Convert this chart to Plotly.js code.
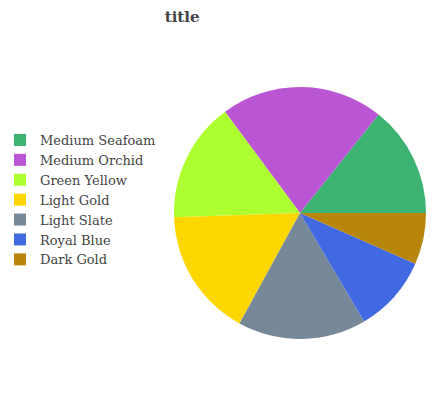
<!DOCTYPE html>
<html>
<head>
<meta charset="utf-8">
<script src="https://cdn.plot.ly/plotly-3.0.1.min.js"></script>
<style>html,body{margin:0;padding:0;background:#fff;}</style>
</head>
<body>
<div id="chart" style="width:444px;height:400px;"></div>
<script>
const categories = ["Medium Seafoam", "Medium Orchid", "Green Yellow", "Light Gold", "Light Slate", "Royal Blue", "Dark Gold"];
const values = [13, 19, 14, 15, 15, 9, 6];
const colors = ["#3CB371", "#BA55D3", "#ADFF2F", "#FFD700", "#778899", "#4169E1", "#B8860B"];

const data = [{
  type: "pie",
  labels: categories,
  values: values,
  sort: false,
  direction: "counterclockwise",
  rotation: 38.6,
  textinfo: "none",
  hoverinfo: "label+value",
  marker: {colors: colors, line: {width: 0}},
  domain: {x: [0.3919, 0.9595], y: [0.1525, 0.7825]}
}];

const layout = {
  width: 444,
  height: 400,
  margin: {l: 0, r: 0, t: 0, b: 0},
  paper_bgcolor: "#ffffff",
  font: {family: "DejaVu Serif", color: "#444444"},
  title: {text: "<b>title</b>", font: {family: "DejaVu Serif", size: 15, color: "#444444"}, x: 0.371, xanchor: "left", y: 0.958, yanchor: "middle"},
  showlegend: true,
  legend: {x: 0, xanchor: "left", y: 0.5, yanchor: "middle", font: {size: 13, color: "#444444"}, bgcolor: "rgba(0,0,0,0)"}
};

Plotly.newPlot("chart", data, layout, {displayModeBar: false, staticPlot: true});
</script>
</body>
</html>
